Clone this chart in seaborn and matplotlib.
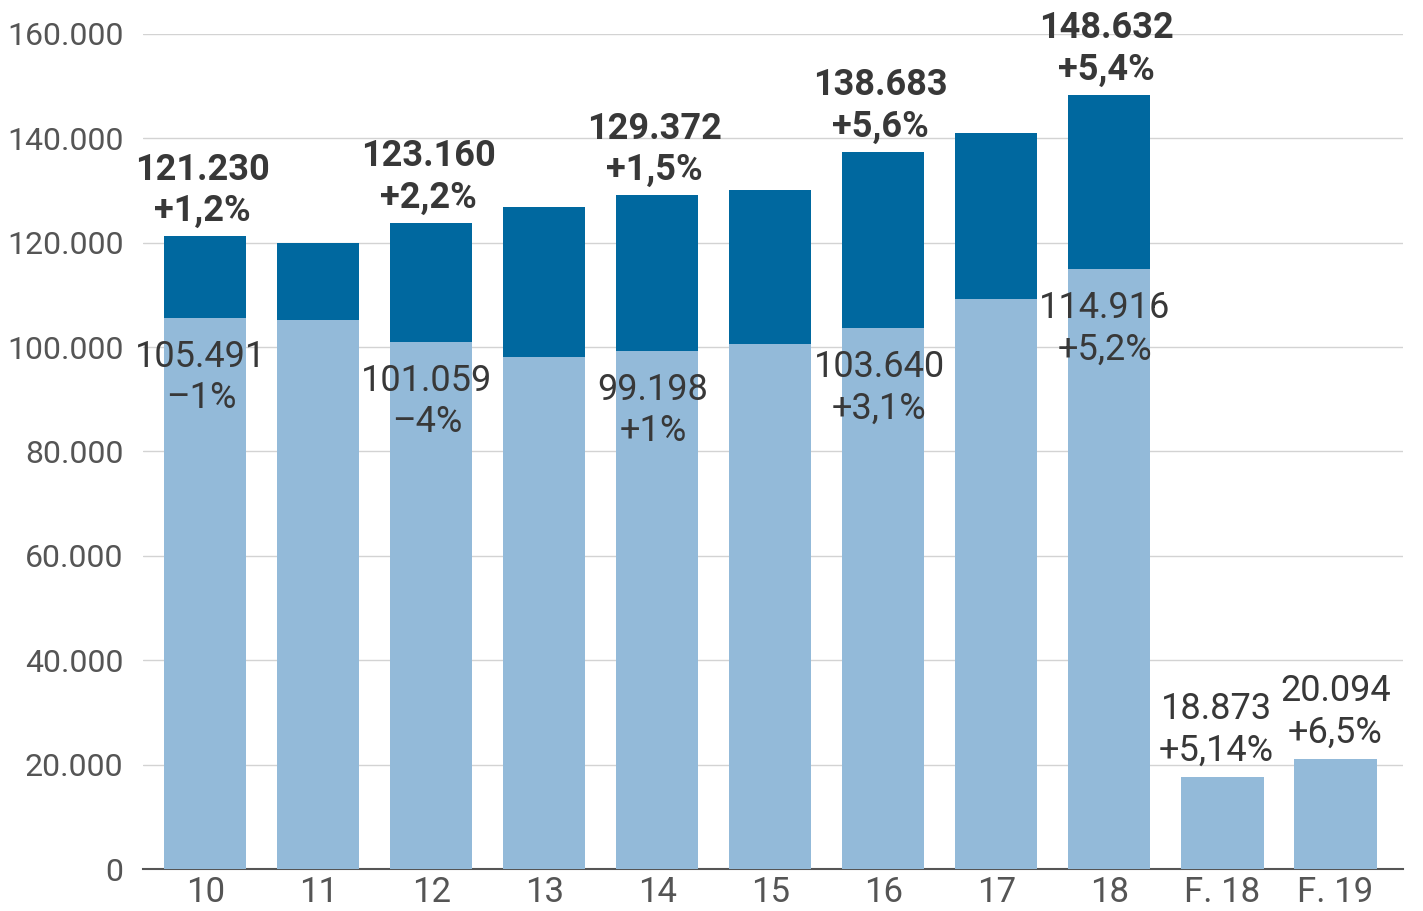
import matplotlib.pyplot as plt
import seaborn as sns
import pandas as pd

years = ['10', '11', '12', '13', '14', '15', '16', '17', '18', 'F. 18', 'F. 19']
total = [121230, 119900, 123800, 126800, 129100, 130100, 137400, 141000, 148300, 0, 0]
base = [105600, 105200, 101000, 98100, 99300, 100600, 103700, 109200, 115000, 17600, 21100]
total_labels = ['121.230\n+1,2%', '', '123.160\n+2,2%', '', '129.372\n+1,5%', '',
                '138.683\n+5,6%', '', '148.632\n+5,4%', '', '']
base_labels = ['105.491\n–1%', '', '101.059\n–4%', '', '99.198\n+1%', '',
               '103.640\n+3,1%', '', '114.916\n+5,2%', '18.873\n+5,14%', '20.094\n+6,5%']

sns.set_style('white')
plt.rcParams['font.family'] = ['Roboto', 'DejaVu Sans']

df = pd.DataFrame({'year': years, 'total': total, 'base': base})

fig = plt.figure(figsize=(14.23, 9.11), dpi=100)
ax = fig.add_axes([0.1005, 0.0461, 0.8855, 0.9166])

sns.barplot(x='year', y='total', data=df, color='#00689f', width=0.73, saturation=1,
            linewidth=0, ax=ax, zorder=2)
sns.barplot(x='year', y='base', data=df, color='#93bad9', width=0.73, saturation=1,
            linewidth=0, ax=ax, zorder=3)

for i in range(len(years)):
    if total_labels[i]:
        ax.annotate(total_labels[i], (i, total[i]), xytext=(-2, 5), textcoords='offset points',
                    ha='center', va='bottom', fontsize=26, fontweight='bold', color='#383838',
                    linespacing=1.2, zorder=5, annotation_clip=False)
    if base_labels[i]:
        if i >= 9:
            ax.annotate(base_labels[i], (i, base[i]), xytext=(-4 if i == 9 else 0, 6),
                        textcoords='offset points', ha='center', va='bottom', fontsize=26,
                        color='#383838', linespacing=1.2, zorder=5, annotation_clip=False)
        else:
            ax.annotate(base_labels[i], (i, base[i]), xytext=(-3, -15), textcoords='offset points',
                        ha='center', va='top', fontsize=26, color='#383838',
                        linespacing=1.2, zorder=5, annotation_clip=False)

ax.set_xlim(-0.55, 10.6)
ax.set_ylim(0, 160000)
ticks = list(range(0, 160001, 20000))
ax.set_yticks(ticks)
ax.set_yticklabels([f'{t:,}'.replace(',', '.') for t in ticks])
ax.yaxis.grid(True, color='#d3d3d3', linewidth=1, zorder=0)
ax.set_axisbelow(True)
ax.tick_params(axis='both', length=0, colors='#555555')
ax.tick_params(axis='y', pad=14, labelsize=23)
ax.tick_params(axis='x', pad=5, labelsize=25)
ax.set_xlabel('')
ax.set_ylabel('')
for s in ['top', 'right', 'left']:
    ax.spines[s].set_visible(False)
ax.spines['bottom'].set_color('#555555')
ax.spines['bottom'].set_linewidth(1.5)

plt.savefig('out.png', dpi=100)
